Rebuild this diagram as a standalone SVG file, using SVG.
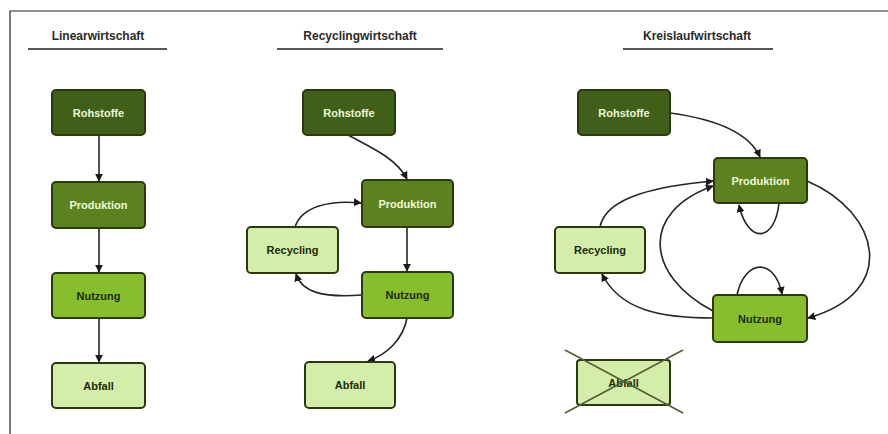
<svg xmlns="http://www.w3.org/2000/svg" width="888" height="434" viewBox="0 0 888 434">
<defs>
<style>
.bg{fill:#ffffff}
.frame{stroke:#222;stroke-width:1.2;fill:none}
.title{font-family:"Liberation Sans",Arial,sans-serif;font-size:12px;font-weight:bold;fill:#2a2a2a;text-anchor:middle}
.ul{stroke:#555;stroke-width:2}
.box{stroke:#2a3a0e;stroke-width:2}
.roh{fill:#40601a}
.pro{fill:#5c8220}
.nut{fill:#87bf2c}
.lig{fill:#d5edab}
.t{font-family:"Liberation Sans",Arial,sans-serif;font-size:11px;font-weight:bold;text-anchor:middle;dominant-baseline:central}
.tw{fill:#eef8d8}
.td{fill:#1d2a08}
.c{fill:none;stroke:#262626;stroke-width:1.6}
.x{stroke:#4f5e33;stroke-width:1.6}
</style>
<marker id="ah" viewBox="0 0 10 10" refX="9" refY="5" markerWidth="8" markerHeight="8" markerUnits="userSpaceOnUse" orient="auto">
<path d="M0,0 L10,5 L0,10 z" fill="#1a1a1a"/>
</marker>
</defs>
<rect class="bg" x="0" y="0" width="888" height="434"/>
<path class="frame" d="M10,434 L10,11 L888,11"/>

<g id="title-linear">
<text class="title" x="98" y="40">Linearwirtschaft</text>
<line class="ul" x1="28" y1="49" x2="167" y2="49"/>
</g>
<g id="title-recycling">
<text class="title" x="360" y="40">Recyclingwirtschaft</text>
<line class="ul" x1="277" y1="49" x2="443" y2="49"/>
</g>
<g id="title-kreislauf">
<text class="title" x="697" y="40">Kreislaufwirtschaft</text>
<line class="ul" x1="623" y1="49" x2="773" y2="49"/>
</g>

<g id="connectors">
<path class="c" d="M99,136 L99,181" marker-end="url(#ah)"/>
<path class="c" d="M99,228 L99,272" marker-end="url(#ah)"/>
<path class="c" d="M99,318 L99,362" marker-end="url(#ah)"/>

<path class="c" d="M348,135 C372,148 396,158 407,179" marker-end="url(#ah)"/>
<path class="c" d="M407,227 L407,271" marker-end="url(#ah)"/>
<path class="c" d="M295,227 C302,206 330,200 361,203" marker-end="url(#ah)"/>
<path class="c" d="M362,295 C322,298 302,292 296,274" marker-end="url(#ah)"/>
<path class="c" d="M407,318 C403,340 386,355 368,361" marker-end="url(#ah)"/>

<path class="c" d="M670,113 C722,120 750,135 760,157" marker-end="url(#ah)"/>
<path class="c" d="M600,227 C606,196 660,186 713,181" marker-end="url(#ah)"/>
<path class="c" d="M713,318 C660,318 620,310 602,274" marker-end="url(#ah)"/>
<path class="c" d="M807,181 C880,212 900,292 808,318" marker-end="url(#ah)"/>
<path class="c" d="M713,311 C645,275 640,212 713,186" marker-end="url(#ah)"/>
<path class="c" d="M779,203 C775,242 748,245 739,205" marker-end="url(#ah)"/>
<path class="c" d="M737,295 C745,258 775,258 782,294" marker-end="url(#ah)"/>
</g>

<g id="lin-rohstoffe"><rect class="box roh" x="52" y="90" width="93" height="45" rx="4"/><text class="t tw" x="98.5" y="113">Rohstoffe</text></g>
<g id="lin-produktion"><rect class="box pro" x="52" y="182" width="93" height="46" rx="4"/><text class="t tw" x="98.5" y="205">Produktion</text></g>
<g id="lin-nutzung"><rect class="box nut" x="52" y="273" width="93" height="45" rx="4"/><text class="t td" x="98.5" y="296">Nutzung</text></g>
<g id="lin-abfall"><rect class="box lig" x="52" y="363" width="93" height="45" rx="4"/><text class="t td" x="98.5" y="386">Abfall</text></g>

<g id="rec-rohstoffe"><rect class="box roh" x="303" y="90" width="92" height="45" rx="4"/><text class="t tw" x="349" y="113">Rohstoffe</text></g>
<g id="rec-produktion"><rect class="box pro" x="362" y="180" width="91" height="47" rx="4"/><text class="t tw" x="407.5" y="204">Produktion</text></g>
<g id="rec-recycling"><rect class="box lig" x="247" y="227" width="91" height="46" rx="4"/><text class="t td" x="292.5" y="250">Recycling</text></g>
<g id="rec-nutzung"><rect class="box nut" x="362" y="272" width="91" height="46" rx="4"/><text class="t td" x="407.5" y="295">Nutzung</text></g>
<g id="rec-abfall"><rect class="box lig" x="305" y="362" width="90" height="46" rx="4"/><text class="t td" x="350" y="385">Abfall</text></g>

<g id="kre-rohstoffe"><rect class="box roh" x="578" y="90" width="92" height="45" rx="4"/><text class="t tw" x="624" y="113">Rohstoffe</text></g>
<g id="kre-produktion"><rect class="box pro" x="714" y="158" width="93" height="45" rx="4"/><text class="t tw" x="760.5" y="181">Produktion</text></g>
<g id="kre-recycling"><rect class="box lig" x="555" y="227" width="90" height="46" rx="4"/><text class="t td" x="600" y="250">Recycling</text></g>
<g id="kre-nutzung"><rect class="box nut" x="713" y="295" width="94" height="47" rx="4"/><text class="t td" x="760" y="319">Nutzung</text></g>
<g id="kre-abfall"><rect class="box lig" x="577" y="360" width="93" height="45" rx="3"/><text class="t td" x="623.5" y="383">Abfall</text>
<line class="x" x1="565" y1="350" x2="683" y2="413"/>
<line class="x" x1="683" y1="350" x2="565" y2="413"/>
</g>
</svg>
